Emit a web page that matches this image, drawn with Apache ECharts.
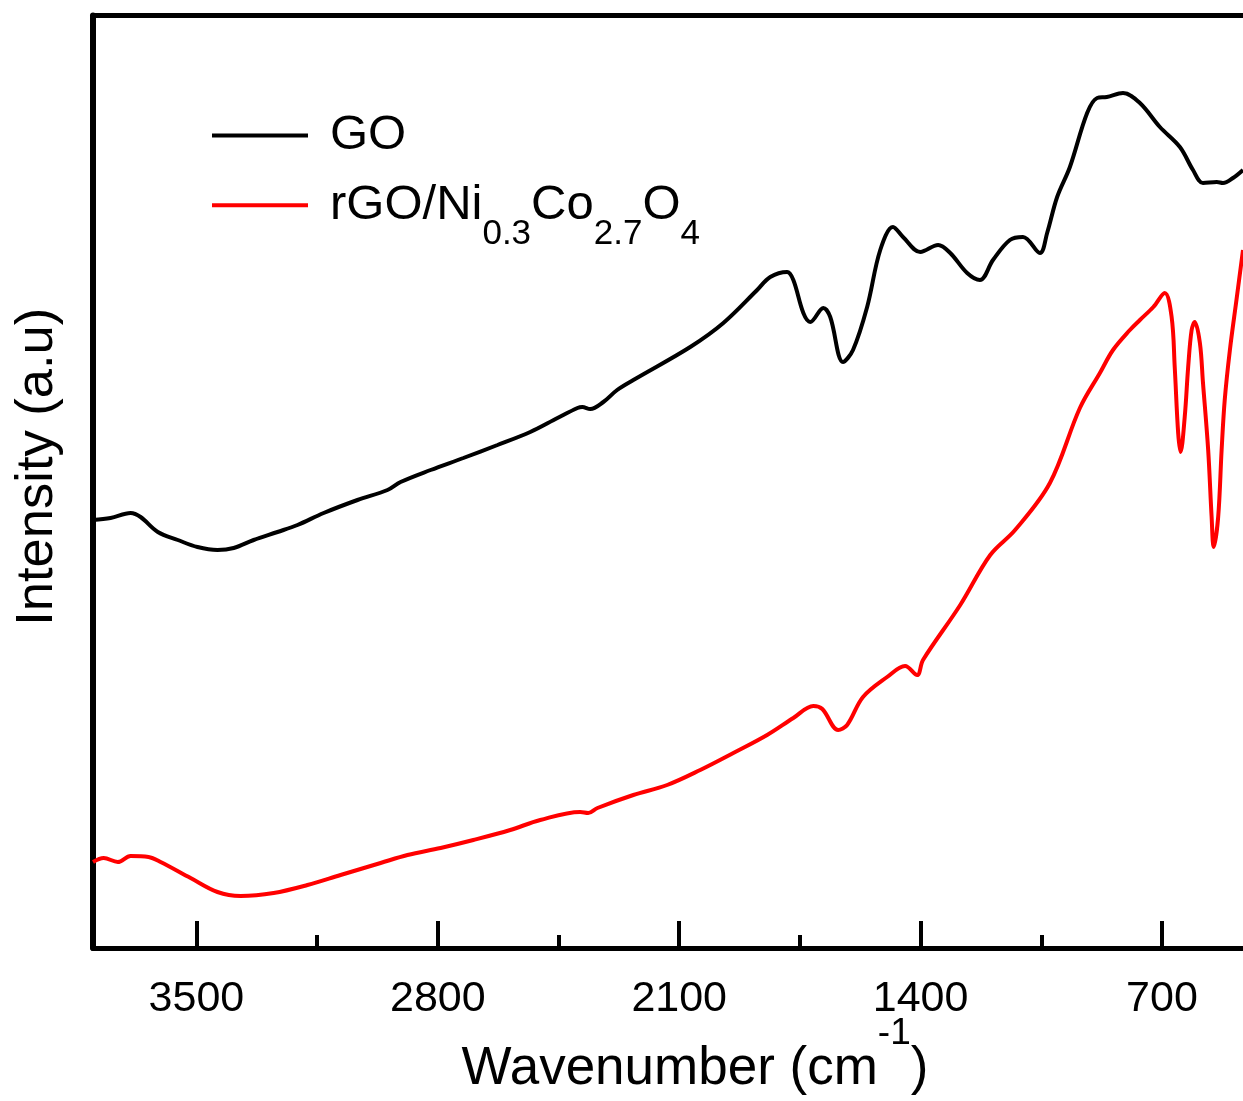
<!DOCTYPE html>
<html>
<head>
<meta charset="utf-8">
<script src="https://cdn.jsdelivr.net/npm/echarts@6/dist/echarts.min.js"></script>
<style>
html,body{margin:0;padding:0;background:#fff;}
#chart{width:1243px;height:1101px;}
</style>
</head>
<body>
<div id="chart"></div>
<script>
// ---- data ----
const xTickLabels = [3500, 2800, 2100, 1400, 700];
const xMinorTicks = [3150, 2450, 1750, 1050];

const goWavenumber = [3800,3749,3691,3662,3612,3554,3497,3439,3392,3334,3265,3207,3131,3033,2946,2908,2821,2726,2627,2532,2453,2395,2381,2358,2320,2280,2233,2068,1972,1874,1836,1787,1769,1740,1720,1682,1662,1625,1596,1555,1517,1480,1451,1401,1349,1314,1265,1228,1190,1141,1103,1054,1033,1004,967,917,888,860,813,764,706,648,610,581,541,523,494,465];
const goIntensity = [428,430,435,431,416,408,401,398,400,408,416,423,435,448,458,466,478,490,503,516,530,540,541,539,546,558,568,601,625,658,671,676,668,635,626,640,631,586,598,641,698,721,711,696,703,695,675,668,688,708,711,695,715,751,781,835,850,851,855,845,821,801,778,765,766,765,770,778];

const rgoWavenumber = [3800,3769,3728,3691,3639,3604,3517,3439,3372,3276,3178,3082,2966,2888,2792,2697,2590,2503,2387,2364,2337,2233,2135,2039,1943,1845,1769,1711,1685,1639,1613,1567,1497,1445,1410,1393,1285,1198,1126,1025,938,880,842,793,764,725,692,672,663,653,646,634,624,614,605,590,581,566,556,550,537,527,518,503,484,465];
const rgoIntensity = [86,90,86,92,91,86,70,56,52,55,63,73,85,93,100,108,118,128,136,135,140,153,163,178,195,213,230,242,239,218,223,251,271,282,273,288,343,393,418,465,540,575,598,618,628,641,655,631,581,515,496,531,581,618,626,605,565,498,431,401,431,498,548,598,648,698];

const seriesNames = ['GO', 'rGO/Ni0.3Co2.7O4'];

const X_MIN = 465, X_MAX = 3800, Y_MIN = 0, Y_MAX = 932.5;

function pairs(xs, ys){ return xs.map((x,i)=>[x, ys[i]]); }

const FONT = 'Liberation Sans, Arial, sans-serif';
const chart = echarts.init(document.getElementById('chart'), null, {renderer:'canvas'});

const legendBase = {
  orient: 'vertical',
  left: 212,
  padding: 0,
  itemGap: 0,
  itemWidth: 96,
  itemHeight: 4,
  icon: 'rect'
};

const option = {
  animation: false,
  backgroundColor: '#ffffff',
  grid: {left: 93, right: 0, top: 15.5, bottom: 153, containLabel: false, outerBoundsMode: 'none'},
  legend: [
    Object.assign({}, legendBase, {
      top: 111,
      data: [{name: seriesNames[0], itemStyle: {color: '#000000'}}],
      formatter: function(){ return '{g|GO}'; },
      textStyle: {
        color: '#000', fontFamily: FONT,
        rich: { g: {fontSize: 49, fontFamily: FONT, color: '#000', padding: [0, 0, 0, 17]} }
      }
    }),
    Object.assign({}, legendBase, {
      top: 181,
      data: [{name: seriesNames[1], itemStyle: {color: '#ff0000'}}],
      formatter: function(){ return '{a0|rGO/Ni}{s|0.3}{a|Co}{s|2.7}{a|O}{s|4}'; },
      textStyle: {
        color: '#000', fontFamily: FONT,
        rich: {
          a0: {fontSize: 49, fontFamily: FONT, color: '#000', verticalAlign: 'top', padding: [22.5, 0, 0, 17]},
          a: {fontSize: 49, fontFamily: FONT, color: '#000', verticalAlign: 'top', padding: [22.5, 0, 0, 0]},
          s: {fontSize: 35, fontFamily: FONT, color: '#000', verticalAlign: 'top', padding: [58.5, 0, 0, 0]}
        }
      }
    })
  ],
  xAxis: [
    {
      type: 'value', position: 'bottom', inverse: true,
      min: X_MIN, max: X_MAX,
      name: '{a|Wavenumber (cm}{s|-1}{a|)}',
      nameLocation: 'middle', nameGap: 67,
      nameMoveOverlap: false,
      nameTextStyle: {
        fontFamily: FONT, color: '#000', padding: [0, 0, 0, 54],
        rich: {
          a: {fontSize: 53, fontFamily: FONT, color: '#000', verticalAlign: 'top', padding: [28, 0, 0, 0]},
          s: {fontSize: 37, fontFamily: FONT, color: '#000', verticalAlign: 'top'}
        }
      },
      axisLine: {show: true, lineStyle: {color: '#000', width: 5}},
      axisTick: {show: true, inside: true, length: 27, lineStyle: {color: '#000', width: 4}, customValues: xTickLabels},
      axisLabel: {show: true, margin: 30, fontSize: 43, fontFamily: FONT, color: '#000', customValues: xTickLabels,
                  formatter: function(v){ return String(v); }},
      splitLine: {show: false}
    },
    {
      type: 'value', position: 'bottom', inverse: true,
      min: X_MIN, max: X_MAX,
      axisLine: {show: false},
      axisTick: {show: true, inside: true, length: 13, lineStyle: {color: '#000', width: 4}, customValues: xMinorTicks},
      axisLabel: {show: false},
      splitLine: {show: false}
    },
    {
      type: 'value', position: 'top', inverse: true,
      min: X_MIN, max: X_MAX,
      axisLine: {show: true, lineStyle: {color: '#000', width: 5}},
      axisTick: {show: false},
      axisLabel: {show: false},
      splitLine: {show: false}
    }
  ],
  yAxis: {
    type: 'value', min: Y_MIN, max: Y_MAX,
    name: 'Intensity (a.u)',
    nameLocation: 'middle', nameGap: 29,
    nameMoveOverlap: false,
    nameTextStyle: {fontSize: 52.5, fontFamily: FONT, color: '#000', padding: [0, 0, 0, 30]},
    axisLine: {show: true, lineStyle: {color: '#000', width: 6}},
    axisTick: {show: false},
    axisLabel: {show: false},
    splitLine: {show: false}
  },
  series: [
    {
      name: seriesNames[0], type: 'line', xAxisIndex: 0,
      data: pairs(goWavenumber, goIntensity),
      showSymbol: false, symbol: 'none', smooth: 0.35,
      lineStyle: {color: '#000000', width: 4},
      itemStyle: {color: '#000000'}
    },
    {
      name: seriesNames[1], type: 'line', xAxisIndex: 0,
      data: pairs(rgoWavenumber, rgoIntensity),
      showSymbol: false, symbol: 'none', smooth: 0.35,
      lineStyle: {color: '#ff0000', width: 4},
      itemStyle: {color: '#ff0000'}
    }
  ]
};
chart.setOption(option);
</script>
</body>
</html>
